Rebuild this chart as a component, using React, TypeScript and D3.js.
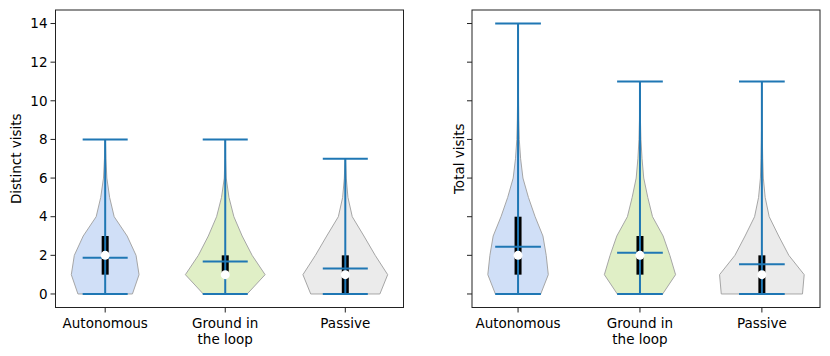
import React from 'react';
import * as d3 from 'd3';

// categories and tick labels
const categories = ['Autonomous', 'Ground in\nthe loop', 'Passive'];
const yTicks = [0, 2, 4, 6, 8, 10, 12, 14];
const fills = ['#d0dff7', '#e0efc6', '#ebebeb'];

// violin half-widths (x units) at visits = 0, 1, 2, ...
const distinctDensity = [
  [0.227, 0.282, 0.257, 0.183, 0.075, 0.037, 0.014, 0.006, 0.002],
  [0.183, 0.332, 0.224, 0.141, 0.072, 0.031, 0.008, 0.003, 0.002],
  [0.288, 0.353, 0.249, 0.155, 0.058, 0.022, 0.008, 0.002],
];
const distinctMin = [0, 0, 0];
const distinctMax = [8, 8, 7];
const distinctQ1 = [1, 1, 0];
const distinctQ3 = [3, 2, 2];
const distinctMedian = [2, 1, 1];
const distinctMean = [1.88, 1.68, 1.32];

const totalDensity = [
  [0.186, 0.248, 0.231, 0.204, 0.14, 0.085, 0.04, 0.021, 0.01, 0.006, 0.004, 0.003, 0.003, 0.002, 0.002],
  [0.186, 0.292, 0.245, 0.19, 0.103, 0.064, 0.031, 0.017, 0.008, 0.004, 0.003, 0.002],
  [0.333, 0.347, 0.221, 0.138, 0.06, 0.027, 0.012, 0.007, 0.004, 0.002, 0.002, 0.002],
];
const totalMin = [0, 0, 0];
const totalMax = [14, 11, 11];
const totalQ1 = [1, 1, 0];
const totalQ3 = [4, 3, 2];
const totalMedian = [2, 2, 1];
const totalMean = [2.45, 2.14, 1.54];

const W = 830;
const H = 356;
const top = 10;
const bottom = 307.5;
const font = 'DejaVu Sans, sans-serif';
const fs = 13.5;
const blue = '#1f77b4';
const capHalf = 0.1875;

type PanelProps = {
  left: number;
  right: number;
  density: number[][];
  mins: number[];
  maxs: number[];
  q1: number[];
  q3: number[];
  medians: number[];
  means: number[];
  ylabel: string;
  showTickLabels: boolean;
};

const y = d3.scaleLinear().domain([-0.7, 14.7]).range([bottom, top]);

function Panel(p: PanelProps) {
  const positions = categories.map((_, i) => i + 1);
  // matplotlib-style 5% margins around violin extents
  const lo = d3.min(positions, (pos, i) => pos - (d3.max(p.density[i]) as number)) as number;
  const hi = d3.max(positions, (pos, i) => pos + (d3.max(p.density[i]) as number)) as number;
  const m = (hi - lo) * 0.05;
  const x = d3.scaleLinear().domain([lo - m, hi + m]).range([p.left, p.right]);

  return (
    <g>
      {p.density.map((dens, i) => {
        const pos = positions[i];
        const area = d3
          .area<number>()
          .y((_, k) => y(k))
          .x0((w) => x(pos - w))
          .x1((w) => x(pos + w));
        return (
          <path key={'v' + i} d={area(dens) || ''} fill={fills[i]} stroke="#a6a6a6" strokeWidth={1} />
        );
      })}
      {positions.map((pos, i) => (
        <line key={'b' + i} x1={x(pos)} x2={x(pos)} y1={y(p.q1[i])} y2={y(p.q3[i])} stroke="#000" strokeWidth={7} />
      ))}
      {positions.map((pos, i) => (
        <g key={'l' + i} stroke={blue} strokeWidth={2}>
          <line x1={x(pos)} x2={x(pos)} y1={y(p.mins[i])} y2={y(p.maxs[i])} />
          <line x1={x(pos - capHalf)} x2={x(pos + capHalf)} y1={y(p.mins[i])} y2={y(p.mins[i])} />
          <line x1={x(pos - capHalf)} x2={x(pos + capHalf)} y1={y(p.maxs[i])} y2={y(p.maxs[i])} />
          <line x1={x(pos - capHalf)} x2={x(pos + capHalf)} y1={y(p.means[i])} y2={y(p.means[i])} />
        </g>
      ))}
      {positions.map((pos, i) => (
        <circle key={'m' + i} cx={x(pos)} cy={y(p.medians[i])} r={4.5} fill="#fff" />
      ))}

      {/* frame */}
      <rect x={p.left} y={top} width={p.right - p.left} height={bottom - top} fill="none" stroke="#222" strokeWidth={1} />

      {/* x axis */}
      {positions.map((pos, i) => (
        <g key={'xt' + i}>
          <line x1={x(pos)} x2={x(pos)} y1={bottom} y2={bottom + 5} stroke="#222" strokeWidth={1} />
          {categories[i].split('\n').map((t, k) => (
            <text key={k} x={x(pos)} y={bottom + 20 + k * 16} textAnchor="middle" fontFamily={font} fontSize={fs} fill="#000">
              {t}
            </text>
          ))}
        </g>
      ))}

      {/* y axis */}
      {yTicks.map((t) => (
        <g key={'yt' + t}>
          <line x1={p.left - 5} x2={p.left} y1={y(t)} y2={y(t)} stroke="#222" strokeWidth={1} />
          {p.showTickLabels && (
            <text x={p.left - 8} y={y(t)} dy="0.35em" textAnchor="end" fontFamily={font} fontSize={fs} fill="#000">
              {t}
            </text>
          )}
        </g>
      ))}
      <text
        transform={`translate(${p.showTickLabels ? 21 : p.left - 8},${(top + bottom) / 2}) rotate(-90)`}
        textAnchor="middle"
        fontFamily={font}
        fontSize={fs}
        fill="#000"
      >
        {p.ylabel}
      </text>
    </g>
  );
}

export default function App() {
  return (
    <svg width={W} height={H} style={{ position: 'absolute', left: 0, top: 0, background: '#fff' }}>
      <rect width={W} height={H} fill="#fff" />
      <Panel
        left={55.5}
        right={403.5}
        density={distinctDensity}
        mins={distinctMin}
        maxs={distinctMax}
        q1={distinctQ1}
        q3={distinctQ3}
        medians={distinctMedian}
        means={distinctMean}
        ylabel="Distinct visits"
        showTickLabels={true}
      />
      <Panel
        left={472}
        right={820}
        density={totalDensity}
        mins={totalMin}
        maxs={totalMax}
        q1={totalQ1}
        q3={totalQ3}
        medians={totalMedian}
        means={totalMean}
        ylabel="Total visits"
        showTickLabels={false}
      />
    </svg>
  );
}
